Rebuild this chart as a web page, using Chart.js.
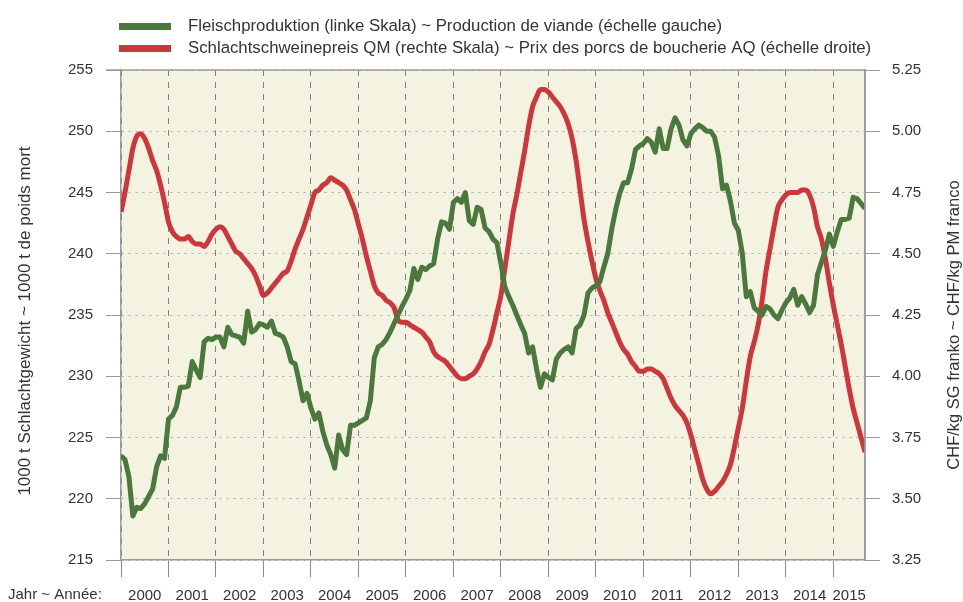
<!DOCTYPE html>
<html>
<head>
<meta charset="utf-8">
<script src="https://cdn.jsdelivr.net/npm/chart.js@4.4.1/dist/chart.umd.min.js"></script>
<style>
  html, body { margin: 0; padding: 0; background: #fff; }
  #wrap { width: 963px; height: 602px; position: relative; }
</style>
</head>
<body>
<div id="wrap"><canvas id="chart" width="963" height="602"></canvas></div>
<script>
// year labels on the x axis (monthly data starts Jan 2000)
const years = [2000, 2001, 2002, 2003, 2004, 2005, 2006, 2007, 2008, 2009, 2010, 2011, 2012, 2013, 2014, 2015];

// Fleischproduktion, 1000 t (left scale), one value per month
const production = [
  223.5, 223.2, 221.8, 218.6, 219.3, 219.2, 219.6, 220.2, 220.8, 222.6, 223.5, 223.3,
  226.5, 226.8, 227.5, 229.1, 229.1, 229.2, 231.2, 230.5, 229.9, 232.8, 233.1, 233.0,
  233.2, 233.2, 232.4, 234.0, 233.4, 233.3, 233.2, 232.7, 235.3, 233.6, 233.8, 234.3,
  234.2, 234.0, 234.5, 233.5, 233.4, 233.2, 232.4, 231.2, 231.0, 229.6, 228.0, 228.6,
  227.4, 226.5, 227.0, 225.5, 224.4, 223.6, 222.5, 225.2, 224.0, 223.6, 226.0, 226.0,
  226.2, 226.4, 226.6, 228.0, 231.5, 232.4, 232.6, 233.0, 233.6, 234.3, 235.0, 235.7,
  236.3, 237.0, 238.8, 237.9, 238.9, 238.7, 239.0, 239.2, 241.2, 242.6, 242.5, 242.0,
  244.2, 244.5, 244.2, 245.0, 242.7, 242.4, 243.8, 243.6, 242.1, 241.8, 241.2, 240.9,
  239.2, 237.3, 236.5, 235.8, 235.0, 234.2, 233.5, 231.9, 232.4, 230.6, 229.1, 230.2,
  229.9, 229.7, 231.4, 231.9, 232.2, 232.4, 231.9, 233.9, 234.2, 235.0, 236.8, 237.2,
  237.4, 237.7, 238.9, 240.0, 242.0, 243.6, 244.9, 245.8, 245.8, 246.9, 248.5, 248.8,
  249.0, 249.4, 249.1, 248.3, 250.2, 248.6, 248.6, 250.2, 251.1, 250.5, 249.3, 248.8,
  249.8, 250.2, 250.5, 250.3, 250.0, 250.0, 249.5, 248.0, 245.3, 245.6, 244.3, 242.5,
  241.9, 240.0, 236.5, 236.9, 235.6, 235.3, 235.0, 235.7, 235.5, 235.0, 234.7, 235.4,
  236.0, 236.4, 237.1, 235.8, 236.5, 235.9, 235.2, 235.8, 238.3, 239.3, 240.3, 241.6,
  240.6, 241.8, 242.8, 242.8, 242.9, 244.6, 244.5, 244.1, 243.7
];

// Schlachtschweinepreis QM, CHF/kg SG (right scale), one value per month
const price = [
  4.67, 4.75, 4.84, 4.93, 4.98, 4.99, 4.97, 4.93, 4.88, 4.84, 4.78, 4.71,
  4.63, 4.59, 4.57, 4.56, 4.56, 4.57, 4.55, 4.54, 4.54, 4.53, 4.55, 4.58,
  4.60, 4.61, 4.60, 4.57, 4.54, 4.51, 4.50, 4.48, 4.46, 4.44, 4.41, 4.37,
  4.33, 4.34, 4.36, 4.38, 4.40, 4.42, 4.43, 4.47, 4.52, 4.56, 4.60, 4.65,
  4.70, 4.75, 4.76, 4.78, 4.79, 4.81, 4.80, 4.79, 4.78, 4.76, 4.72, 4.68,
  4.62, 4.56, 4.49, 4.43, 4.37, 4.34, 4.33, 4.31, 4.30, 4.28, 4.23, 4.22,
  4.22, 4.21, 4.20, 4.19, 4.18, 4.16, 4.14, 4.10, 4.08, 4.07, 4.06, 4.04,
  4.02, 4.00, 3.99, 3.99, 4.00, 4.01, 4.03, 4.06, 4.10, 4.13, 4.19, 4.26,
  4.33, 4.44, 4.55, 4.66, 4.74, 4.83, 4.92, 5.02, 5.10, 5.14, 5.17, 5.17,
  5.16, 5.14, 5.12, 5.10, 5.07, 5.03, 4.97, 4.88, 4.76, 4.64, 4.55, 4.47,
  4.40, 4.35, 4.31, 4.26, 4.22, 4.18, 4.14, 4.11, 4.09, 4.06, 4.04, 4.02,
  4.02, 4.03, 4.03, 4.02, 4.01, 3.99, 3.95, 3.91, 3.88, 3.86, 3.84, 3.81,
  3.76, 3.70, 3.64, 3.58, 3.54, 3.52, 3.53, 3.55, 3.57, 3.60, 3.64, 3.71,
  3.79, 3.87, 3.98, 4.08, 4.14, 4.21, 4.31, 4.43, 4.52, 4.61, 4.69, 4.72,
  4.74, 4.75, 4.75, 4.75, 4.76, 4.76, 4.74, 4.69, 4.61, 4.56, 4.48, 4.38,
  4.29, 4.21, 4.13, 4.04, 3.95, 3.87, 3.81, 3.75, 3.69
];

const leftTicks = [215, 220, 225, 230, 235, 240, 245, 250, 255];
const rightTicks = [3.25, 3.50, 3.75, 4.00, 4.25, 4.50, 4.75, 5.00, 5.25];

const prodLabel = "Fleischproduktion (linke Skala) ~ Production de viande (échelle gauche)";
const priceLabel = "Schlachtschweinepreis QM (rechte Skala) ~ Prix des porcs de boucherie AQ (échelle droite)";
const leftTitle = "1000 t Schlachtgewicht ~ 1000 t de poids mort";
const rightTitle = "CHF/kg SG franko ~ CHF/kg PM franco";
const xTitle = "Jahr ~ Année:";

const GREEN = "#4b783c";
const RED = "#cd373c";
const SANS = "'Liberation Sans', Arial, sans-serif";

const lastMonth = production.length - 1;

// x ticks: year boundaries (grid lines) plus year middles (labels)
const xTicks = [];
years.forEach((y, i) => {
  const start = i * 12;
  xTicks.push({ value: start, kind: "line" });
  const end = Math.min(start + 12, lastMonth);
  xTicks.push({ value: (start + end) / 2, kind: "label", text: String(y) });
});
function tickKind(v) {
  const t = xTicks.find(t => t.value === v);
  return t ? t.kind : "line";
}

const decorPlugin = {
  id: "decor",
  beforeDraw(chart) {
    const { ctx, chartArea: a } = chart;
    ctx.save();
    ctx.fillStyle = "#ffffff";
    ctx.fillRect(0, 0, chart.width, chart.height);
    ctx.fillStyle = "#f4f2e1";
    ctx.fillRect(a.left, a.top, a.right - a.left, a.bottom - a.top);
    ctx.restore();
  },
  afterDraw(chart) {
    const { ctx, chartArea: a } = chart;
    ctx.save();
    // top and right frame
    ctx.strokeStyle = "#9a9a9a";
    ctx.lineWidth = 1.5;
    ctx.beginPath();
    ctx.moveTo(a.left - 15, a.top);
    ctx.lineTo(a.right, a.top);
    ctx.lineTo(a.right, a.bottom);
    ctx.stroke();

    // legend
    const rows = [[prodLabel, GREEN, 26], [priceLabel, RED, 48]];
    ctx.font = "16.8px " + SANS;
    ctx.textBaseline = "middle";
    ctx.textAlign = "left";
    rows.forEach(([txt, col, y]) => {
      ctx.fillStyle = col;
      ctx.fillRect(119, y - 3, 52, 7);
      ctx.fillStyle = "#333";
      ctx.fillText(txt, 188, y);
    });

    // axis titles
    ctx.textAlign = "center";
    ctx.fillStyle = "#333";
    ctx.font = "17px " + SANS;
    ctx.translate(25, 321);
    ctx.rotate(-Math.PI / 2);
    ctx.fillText(leftTitle, 0, 0);
    ctx.setTransform(1, 0, 0, 1, 0, 0);
    ctx.font = "16.5px " + SANS;
    ctx.translate(954, 325);
    ctx.rotate(-Math.PI / 2);
    ctx.fillText(rightTitle, 0, 0);
    ctx.setTransform(1, 0, 0, 1, 0, 0);

    ctx.font = "15px " + SANS;
    ctx.textAlign = "left";
    ctx.fillText(xTitle, 8, 595);
    ctx.restore();
  }
};

new Chart(document.getElementById("chart"), {
  type: "line",
  data: {
    datasets: [
      {
        label: prodLabel,
        data: production.map((v, i) => ({ x: i, y: v })),
        yAxisID: "y",
        borderColor: GREEN,
        borderWidth: 5,
        pointRadius: 0,
        tension: 0,
        borderJoinStyle: "round"
      },
      {
        label: priceLabel,
        data: price.map((v, i) => ({ x: i, y: v })),
        yAxisID: "y1",
        borderColor: RED,
        borderWidth: 5,
        pointRadius: 0,
        tension: 0.4,
        cubicInterpolationMode: "monotone"
      }
    ]
  },
  options: {
    responsive: false,
    animation: false,
    devicePixelRatio: 1,
    layout: { padding: { top: 70, left: 0, right: 0, bottom: 0 } },
    plugins: {
      legend: { display: false },
      tooltip: { enabled: false }
    },
    scales: {
      x: {
        type: "linear",
        min: 0,
        max: lastMonth,
        afterBuildTicks: s => { s.ticks = xTicks.map(t => ({ value: t.value })); },
        afterFit: s => { s.height = 42; },
        ticks: {
          autoSkip: false,
          maxRotation: 0,
          padding: 10,
          color: "#333",
          font: { family: SANS, size: 15 },
          callback: v => {
            const t = xTicks.find(t => t.value === v);
            return t && t.kind === "label" ? t.text : "";
          }
        },
        grid: {
          color: c => (c.tick && tickKind(c.tick.value) === "line") ? "#808080" : "rgba(0,0,0,0)",
          tickColor: c => (c.tick && tickKind(c.tick.value) === "line") ? "#8a8a8a" : "rgba(0,0,0,0)",
          tickLength: 17,
          lineWidth: 1,
          tickBorderDash: []
        },
        border: { color: "#9a9a9a", width: 1.5, dash: [6, 6] }
      },
      y: {
        position: "left",
        min: 215,
        max: 255,
        afterBuildTicks: s => { s.ticks = leftTicks.map(v => ({ value: v })); },
        afterFit: s => { s.width = 121; },
        ticks: {
          padding: 13,
          color: "#333",
          font: { family: SANS, size: 15 }
        },
        grid: {
          color: "#aaaaaa",
          tickColor: "#9a9a9a",
          tickLength: 15,
          lineWidth: 1,
          tickBorderDash: []
        },
        border: { color: "#9a9a9a", width: 1.5, dash: [2, 5] }
      },
      y1: {
        position: "right",
        min: 3.25,
        max: 5.25,
        afterBuildTicks: s => { s.ticks = rightTicks.map(v => ({ value: v })); },
        afterFit: s => { s.width = 98; },
        ticks: {
          padding: 12,
          color: "#333",
          font: { family: SANS, size: 15 },
          callback: v => Number(v).toFixed(2)
        },
        grid: {
          drawOnChartArea: false,
          tickColor: "#9a9a9a",
          tickLength: 15,
          tickBorderDash: []
        },
        border: { color: "#9a9a9a", width: 1.5 }
      }
    }
  },
  plugins: [decorPlugin]
});
</script>
</body>
</html>
